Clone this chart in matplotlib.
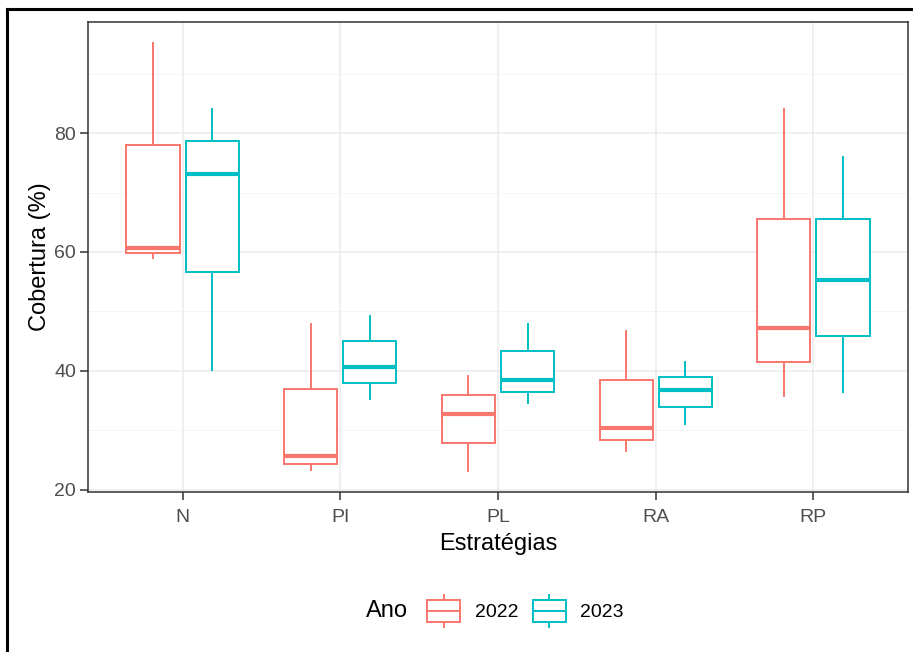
import matplotlib
matplotlib.use("Agg")
import matplotlib.pyplot as plt
from matplotlib.legend_handler import HandlerBase
from matplotlib.patches import Rectangle, Patch
from matplotlib.lines import Line2D

plt.rcParams["font.family"] = ["Liberation Sans", "DejaVu Sans"]

estrategias = ["N", "PI", "PL", "RA", "RP"]
anos = ["2022", "2023"]
cores = ["#F8766D", "#00BFC4"]

# lower whisker, Q1, median, Q3, upper whisker for each strategy
lo_2022 = [58.9, 23.3, 23.2, 26.5, 35.7]
q1_2022 = [59.8, 24.4, 27.9, 28.3, 41.4]
med_2022 = [60.7, 25.7, 32.7, 30.4, 47.2]
q3_2022 = [78.0, 36.9, 36.0, 38.5, 65.5]
hi_2022 = [95.1, 47.9, 39.1, 46.7, 84.0]

lo_2023 = [40.1, 35.3, 34.6, 31.1, 36.5]
q1_2023 = [56.6, 38.0, 36.5, 33.9, 45.8]
med_2023 = [73.2, 40.7, 38.5, 36.8, 55.2]
q3_2023 = [78.6, 45.0, 43.3, 39.0, 65.5]
hi_2023 = [84.0, 49.3, 47.9, 41.5, 76.0]

dados = {
    "2022": (lo_2022, q1_2022, med_2022, q3_2022, hi_2022),
    "2023": (lo_2023, q1_2023, med_2023, q3_2023, hi_2023),
}


class BoxKey(HandlerBase):
    # draws a small boxplot glyph in the legend, like ggplot does
    def create_artists(self, legend, orig_handle, xdescent, ydescent,
                       width, height, fontsize, trans):
        c = orig_handle.get_edgecolor()
        x0, y0 = -xdescent, -ydescent
        xm = x0 + width / 2
        bh = height * 0.68
        yb = y0 + (height - bh) / 2
        rect = Rectangle((x0, yb), width, bh, facecolor="white",
                         edgecolor=c, lw=1.4, transform=trans)
        med = Line2D([x0, x0 + width], [y0 + height / 2] * 2, color=c,
                     lw=1.4, transform=trans)
        w1 = Line2D([xm, xm], [y0, yb], color=c, lw=1.4, transform=trans)
        w2 = Line2D([xm, xm], [yb + bh, y0 + height], color=c, lw=1.4,
                    transform=trans)
        return [rect, med, w1, w2]


fig = plt.figure(figsize=(9.13, 6.52), dpi=100)
ax = fig.add_axes([88 / 913, 1 - 492 / 652, 820 / 913, 470 / 652])

dodge = 0.75 / 4
for k, ano in enumerate(anos):
    lo, q1, med, q3, hi = dados[ano]
    stats = []
    for i in range(len(estrategias)):
        stats.append({"whislo": lo[i], "q1": q1[i], "med": med[i],
                      "q3": q3[i], "whishi": hi[i], "fliers": []})
    pos = [i + 1 + (k * 2 - 1) * dodge for i in range(len(estrategias))]
    c = cores[k]
    ax.bxp(stats, positions=pos, widths=0.3375, showcaps=False,
           showfliers=False, patch_artist=True, manage_ticks=False,
           boxprops=dict(facecolor="white", edgecolor=c, linewidth=1.4),
           medianprops=dict(color=c, linewidth=3.0, solid_capstyle="butt"),
           whiskerprops=dict(color=c, linewidth=1.4))

todos = lo_2022 + lo_2023 + hi_2022 + hi_2023
vmin, vmax = min(todos), max(todos)
pad = (vmax - vmin) * 0.05
ax.set_ylim(vmin - pad, vmax + pad)
ax.set_xlim(0.4, len(estrategias) + 0.6)

ax.set_xticks(range(1, len(estrategias) + 1))
ax.set_xticklabels(estrategias)
ax.set_yticks([20, 40, 60, 80])
ax.set_yticks([30, 50, 70, 90], minor=True)

ax.set_axisbelow(True)
ax.grid(which="major", color="#EBEBEB", linewidth=1.1)
ax.grid(which="minor", axis="y", color="#F2F2F2", linewidth=0.6)
for s in ax.spines.values():
    s.set_color("#333333")
    s.set_linewidth(1.1)

ax.tick_params(which="major", length=5.5, width=1.1, color="#333333",
               labelsize=14, labelcolor="#4D4D4D", pad=3)
ax.tick_params(axis="x", pad=6.5)
ax.tick_params(which="minor", length=0)

ax.set_xlabel("Estratégias", fontsize=17, labelpad=5.5)
ax.set_ylabel("Cobertura (%)", fontsize=17, labelpad=2.5)

handles = [Patch(edgecolor=cores[k], facecolor="white", label=anos[k])
           for k in range(len(anos))]
fig.legend(handles=handles, handler_map={Patch: BoxKey()}, ncol=2,
           loc="center left", bbox_to_anchor=(427 / 913, 1 - 611 / 652),
           bbox_transform=fig.transFigure, frameon=False, fontsize=14,
           handlelength=1.7, handleheight=2.1, handletextpad=0.75,
           columnspacing=0.75, borderpad=0, borderaxespad=0)
fig.text(408 / 913, 1 - 611 / 652, "Ano", fontsize=17, ha="right",
         va="center")

# black frame of the original figure box
fig.add_artist(Line2D([7 / 913, 7 / 913], [0, 1 - 9 / 652], color="black",
                      lw=2.2, transform=fig.transFigure))
fig.add_artist(Line2D([7 / 913, 1], [1 - 9 / 652, 1 - 9 / 652],
                      color="black", lw=2.2, transform=fig.transFigure))

fig.savefig("out.png", dpi=100, facecolor="white")
